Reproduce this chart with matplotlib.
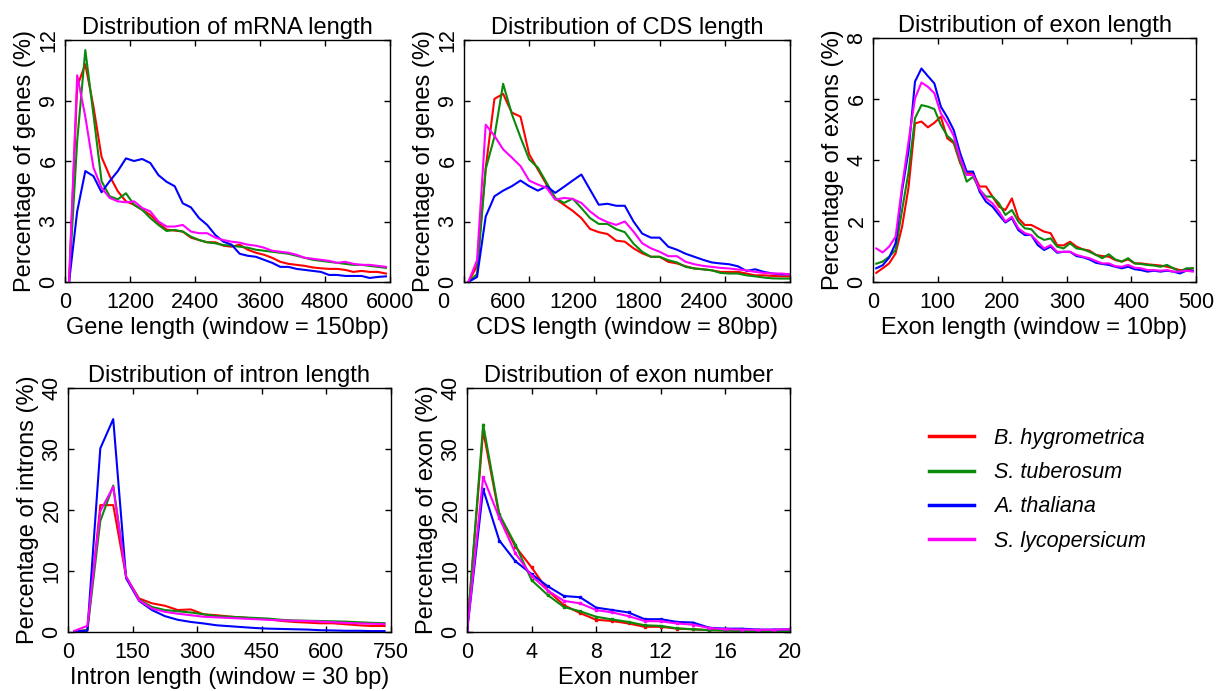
import matplotlib
matplotlib.use("Agg")
import matplotlib.pyplot as plt
import matplotlib.transforms as mtransforms
import numpy as np

plt.rcParams['font.family'] = ['Liberation Sans', 'DejaVu Sans']

species = ["B. hygrometrica", "S. tuberosum", "A. thaliana", "S. lycopersicum"]
colors = ["#ff0000", "#0a8a0a", "#0000ff", "#ff00ff"]

# Panel 1: mRNA length (window 150bp), bin centres 75..5925
mrna_x = np.arange(75, 6000, 150)
mrna_red = [0, 9.7, 10.8, 8.7, 6.2, 5.25, 4.5, 4.0, 3.83, 3.58, 3.33, 2.92, 2.6, 2.55, 2.5, 2.2, 2.08, 1.97, 1.97, 1.8,
            1.75, 1.85, 1.6, 1.45, 1.35, 1.2, 1.0, 0.9, 0.85, 0.8, 0.72, 0.68, 0.65, 0.65, 0.6, 0.5, 0.55, 0.5, 0.5, 0.42]
mrna_green = [0, 7.0, 11.5, 8.3, 5.0, 4.25, 4.1, 4.4, 3.83, 3.58, 3.17, 2.83, 2.53, 2.58, 2.5, 2.25, 2.08, 1.97, 1.92, 1.83,
              1.8, 1.75, 1.7, 1.6, 1.55, 1.5, 1.45, 1.4, 1.3, 1.2, 1.1, 1.05, 1.0, 0.95, 0.9, 0.85, 0.85, 0.8, 0.75, 0.7]
mrna_blue = [0, 3.5, 5.5, 5.25, 4.45, 5.0, 5.5, 6.13, 6.0, 6.1, 5.9, 5.3, 4.97, 4.75, 3.9, 3.7, 3.17, 2.83, 2.33, 2.0,
             1.85, 1.4, 1.3, 1.25, 1.1, 0.95, 0.75, 0.75, 0.65, 0.6, 0.55, 0.5, 0.35, 0.35, 0.3, 0.3, 0.3, 0.2, 0.25, 0.28]
mrna_mag = [0, 10.25, 8.2, 5.67, 4.67, 4.17, 4.0, 3.95, 4.0, 3.67, 3.5, 3.0, 2.75, 2.75, 2.83, 2.5, 2.42, 2.42, 2.2, 2.08,
            2.0, 1.95, 1.85, 1.8, 1.7, 1.55, 1.5, 1.45, 1.35, 1.2, 1.15, 1.1, 1.05, 0.95, 1.0, 0.9, 0.85, 0.85, 0.8, 0.75]

# Panel 2: CDS length (window 80bp), bin centres 40..3000
cds_x = np.arange(40, 3001, 80)
cds_red = [0, 0.8, 5.67, 9.08, 9.33, 8.4, 8.2, 6.33, 5.58, 4.83, 4.13, 3.83, 3.53, 3.17, 2.63, 2.47, 2.38, 2.05, 2.0,
           1.67, 1.42, 1.25, 1.25, 1.0, 0.92, 0.78, 0.67, 0.63, 0.58, 0.5, 0.5, 0.5, 0.42, 0.33, 0.33, 0.3, 0.28, 0.28]
cds_green = [0, 0.4, 5.6, 7.2, 9.83, 8.33, 7.17, 6.08, 5.67, 4.92, 4.17, 3.92, 4.13, 3.67, 3.17, 2.88, 2.88, 2.62, 2.47,
             1.9, 1.5, 1.25, 1.25, 1.08, 0.97, 0.75, 0.67, 0.63, 0.58, 0.45, 0.42, 0.42, 0.33, 0.28, 0.22, 0.18, 0.17, 0.17]
cds_blue = [0, 0.25, 3.25, 4.25, 4.53, 4.75, 5.03, 4.75, 4.53, 4.75, 4.42, 4.72, 5.03, 5.33, 4.58, 3.83, 3.88, 3.78, 3.78,
            3.0, 2.4, 2.2, 2.2, 1.75, 1.6, 1.4, 1.25, 1.1, 0.97, 0.92, 0.88, 0.78, 0.55, 0.63, 0.5, 0.42, 0.38, 0.38]
cds_mag = [0, 1.08, 7.8, 7.25, 6.58, 6.17, 5.75, 5.03, 4.83, 4.67, 4.08, 4.17, 4.12, 3.92, 3.5, 3.17, 2.97, 2.83, 3.0,
           2.5, 1.92, 1.67, 1.5, 1.28, 1.28, 1.0, 0.88, 0.8, 0.75, 0.7, 0.67, 0.62, 0.58, 0.5, 0.45, 0.42, 0.42, 0.38]

# Panel 3: exon length (window 10bp), bin centres 5..495
exon_x = np.arange(5, 500, 10)
exon_red = [0.3, 0.45, 0.61, 0.94, 1.81, 3.1, 5.2, 5.26, 5.07, 5.22, 5.42, 4.71, 4.55, 3.89, 3.56, 3.56, 3.13, 3.13, 2.8, 2.47,
            2.36, 2.74, 2.09, 1.87, 1.87, 1.76, 1.65, 1.6, 1.21, 1.2, 1.32, 1.16, 1.07, 1.03, 0.89, 0.85, 0.83, 0.72, 0.67, 0.74,
            0.61, 0.61, 0.58, 0.56, 0.54, 0.5, 0.45, 0.39, 0.39, 0.45]
exon_green = [0.6, 0.67, 0.83, 1.05, 2.36, 3.6, 5.37, 5.8, 5.75, 5.67, 5.15, 4.79, 4.6, 3.95, 3.29, 3.45, 3.02, 2.8, 2.8, 2.58,
              2.2, 2.36, 1.98, 1.76, 1.73, 1.49, 1.38, 1.43, 1.16, 1.1, 1.27, 1.1, 1.07, 0.99, 0.89, 0.78, 0.91, 0.74, 0.67, 0.78,
              0.61, 0.59, 0.56, 0.54, 0.5, 0.56, 0.45, 0.34, 0.45, 0.45]
exon_blue = [0.45, 0.55, 0.8, 1.27, 3.0, 4.3, 6.57, 7.0, 6.75, 6.51, 5.75, 5.4, 4.98, 4.22, 3.62, 3.62, 2.96, 2.63, 2.47, 2.2,
             1.95, 2.09, 1.7, 1.54, 1.54, 1.21, 1.05, 1.16, 0.96, 0.99, 0.99, 0.85, 0.81, 0.74, 0.63, 0.59, 0.56, 0.5, 0.45, 0.5,
             0.42, 0.39, 0.34, 0.37, 0.34, 0.37, 0.34, 0.28, 0.37, 0.37]
exon_mag = [1.1, 0.97, 1.16, 1.49, 3.13, 4.6, 6.02, 6.54, 6.4, 6.19, 5.53, 5.2, 4.79, 4.05, 3.51, 3.51, 3.04, 2.74, 2.58, 2.31,
            1.98, 2.14, 1.76, 1.6, 1.54, 1.32, 1.1, 1.21, 0.99, 0.99, 0.99, 0.89, 0.83, 0.78, 0.69, 0.61, 0.61, 0.52, 0.5, 0.56,
            0.47, 0.45, 0.39, 0.39, 0.37, 0.39, 0.34, 0.34, 0.37, 0.34]

# Panel 4: intron length (window 30bp), bin centres 15..735
intron_x = np.arange(15, 750, 30)
intron_red = [0.1, 0.3, 20.8, 20.8, 9.0, 5.5, 4.7, 4.3, 3.6, 3.7, 2.9, 2.75, 2.53, 2.37, 2.2, 2.09, 1.82, 1.65, 1.54, 1.43,
              1.43, 1.27, 1.1, 0.99, 0.99]
intron_green = [0.1, 0.3, 18.2, 24.0, 9.0, 5.3, 4.1, 3.6, 3.4, 3.2, 2.9, 2.6, 2.5, 2.4, 2.3, 2.2, 2.0, 1.9, 1.85, 1.8,
                1.75, 1.7, 1.6, 1.5, 1.45]
intron_blue = [0.1, 0.2, 30.1, 34.9, 8.8, 5.1, 3.6, 2.6, 2.0, 1.65, 1.4, 1.1, 0.95, 0.8, 0.65, 0.55, 0.5, 0.45, 0.4, 0.3,
               0.25, 0.2, 0.2, 0.15, 0.15]
intron_mag = [0.2, 1.0, 19.8, 23.8, 9.1, 5.2, 3.85, 3.3, 3.0, 2.75, 2.5, 2.4, 2.3, 2.2, 2.1, 2.0, 1.9, 1.85, 1.8, 1.7,
              1.6, 1.5, 1.4, 1.35, 1.3]

# Panel 5: exon number 0..20
exnum_x = np.arange(0, 21)
exnum_red = [0, 33.0, 19.0, 14.0, 10.6, 6.8, 4.4, 3.1, 2.0, 1.8, 1.4, 0.85, 0.85, 0.55, 0.45, 0.3, 0.3, 0.25, 0.25, 0.25, 0.25]
exnum_green = [0, 34.0, 19.3, 14.3, 8.5, 6.05, 4.1, 3.4, 2.5, 2.05, 1.65, 1.1, 1.0, 0.6, 0.45, 0.3, 0.22, 0.15, 0.15, 0.15, 0.15]
exnum_blue = [0, 23.4, 15.0, 11.6, 9.5, 7.5, 5.9, 5.7, 4.0, 3.6, 3.2, 2.1, 2.1, 1.65, 1.55, 0.7, 0.55, 0.55, 0.4, 0.4, 0.45]
exnum_mag = [0, 25.4, 18.7, 12.9, 9.2, 6.8, 5.1, 4.7, 3.6, 3.2, 2.6, 1.8, 1.75, 1.4, 1.2, 0.65, 0.45, 0.4, 0.35, 0.35, 0.45]

titles = ["Distribution of mRNA length", "Distribution of CDS length", "Distribution of exon length",
          "Distribution of intron length", "Distribution of exon number"]
xlabels = ["Gene length (window = 150bp)", "CDS length (window = 80bp)", "Exon length (window = 10bp)",
           "Intron length (window = 30 bp)", "Exon number"]
ylabels = ["Percentage of genes (%)", "Percentage of genes (%)", "Percentage of exons (%)",
           "Percentage of introns (%)", "Percentage of exon (%)"]

W, H = 1220, 691
fig = plt.figure(figsize=(W / 100, H / 100), dpi=100)

def rect(l, t, r, b):
    return [l / W, 1 - b / H, (r - l) / W, (b - t) / H]

panels = [
    dict(rect=rect(65, 40, 390, 282), x=mrna_x, ys=[mrna_red, mrna_green, mrna_blue, mrna_mag],
         xlim=(0, 6000), xt=np.arange(0, 6001, 1200), ylim=(0, 12), yt=np.arange(0, 13, 3), marker=None),
    dict(rect=rect(464, 40, 790, 282), x=cds_x, ys=[cds_red, cds_green, cds_blue, cds_mag],
         xlim=(0, 3000), xt=np.arange(0, 3001, 600), ylim=(0, 12), yt=np.arange(0, 13, 3), marker=None),
    dict(rect=rect(873, 38, 1196, 282), x=exon_x, ys=[exon_red, exon_green, exon_blue, exon_mag],
         xlim=(0, 500), xt=np.arange(0, 501, 100), ylim=(0, 8), yt=np.arange(0, 9, 2), marker=None),
    dict(rect=rect(68, 388, 391, 632), x=intron_x, ys=[intron_red, intron_green, intron_blue, intron_mag],
         xlim=(0, 750), xt=np.arange(0, 751, 150), ylim=(0, 40), yt=np.arange(0, 41, 10), marker=None),
    dict(rect=rect(467, 388, 790, 632), x=exnum_x, ys=[exnum_red, exnum_green, exnum_blue, exnum_mag],
         xlim=(0, 20), xt=np.arange(0, 21, 4), ylim=(0, 40), yt=np.arange(0, 41, 10), marker='s'),
]

FS_T = 17
FS_TICK = 15.5
handles = None
axes = []
for i, p in enumerate(panels):
    ax = fig.add_axes(p['rect'])
    lines = []
    for y, c in zip(p['ys'], colors):
        ln, = ax.plot(p['x'], y, color=c, lw=1.5, marker=p['marker'], markersize=1.6)
        lines.append(ln)
    if i == 0:
        handles = lines
    ax.set_xlim(*p['xlim'])
    ax.set_ylim(*p['ylim'])
    ax.set_xticks(p['xt'])
    ax.set_yticks(p['yt'])
    ax.tick_params(direction='in', length=4, width=1, top=True, right=True, labelsize=FS_TICK)
    ax.tick_params(axis='x', pad=7)
    ax.tick_params(axis='y', labelrotation=90, pad=4)
    for lbl in ax.get_yticklabels():
        lbl.set_va('center')
    ax.set_title(titles[i], fontsize=FS_T, pad=4)
    ax.set_xlabel(xlabels[i], fontsize=FS_T, labelpad=3)
    ax.set_ylabel(ylabels[i], fontsize=FS_T, labelpad=2)
    for s in ax.spines.values():
        s.set_linewidth(1.0)
    axes.append(ax)

# CDS panel x tick labels sit slightly left of their ticks in the original
off = mtransforms.ScaledTranslation(-0.21, 0, fig.dpi_scale_trans)
for lbl in axes[1].get_xticklabels():
    lbl.set_transform(lbl.get_transform() + off)

leg = fig.legend(handles, species, loc='upper left', bbox_to_anchor=(918 / W, 1 - 417 / H),
                 frameon=False, borderpad=0, handlelength=2.1, handletextpad=0.95, labelspacing=0.62,
                 prop=dict(style='italic', size=FS_TICK))
for lh in leg.get_lines():
    lh.set_linewidth(2.5)

fig.savefig("out.png", dpi=100)
